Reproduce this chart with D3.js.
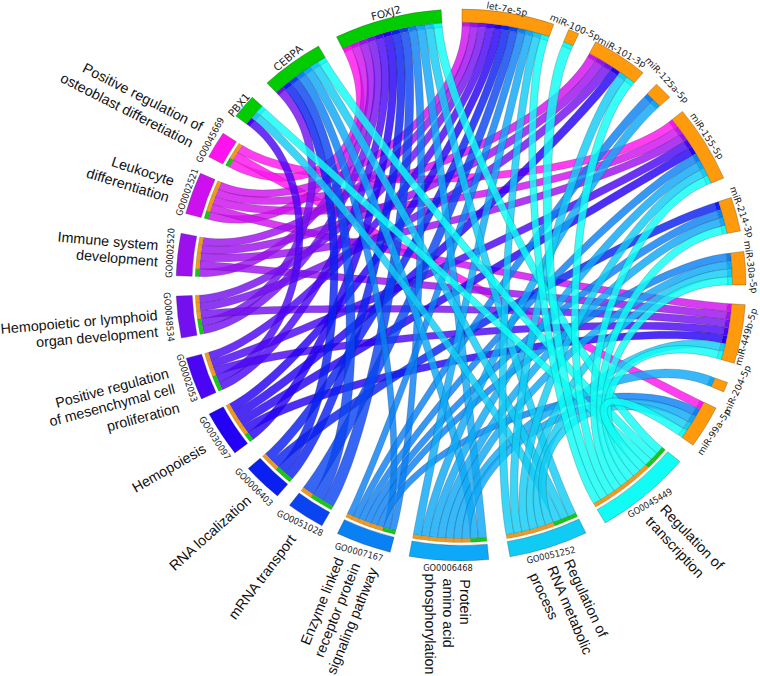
<!DOCTYPE html>
<html>
<head>
<meta charset="utf-8">
<script src="https://cdn.jsdelivr.net/npm/d3@7"></script>
<style>
  html, body { margin: 0; padding: 0; background: #fff; }
  svg { display: block; }
  .term { font-family: "Liberation Sans", Arial, sans-serif; font-size: 14.3px; fill: #111; }
  .goId { font-family: "DejaVu Sans Condensed", "DejaVu Sans", sans-serif; font-size: 9.2px; fill: #222; }
  .gene { font-family: "DejaVu Sans", sans-serif; font-size: 9.2px; fill: #222; }
  .tf { font-family: "DejaVu Sans", sans-serif; font-size: 10.5px; fill: #222; }
</style>
</head>
<body>
<div id="chart-area"></div>
<script>
// GO terms, index 0 is magenta end of the colour run
const goIds = ["GO0045669", "GO0002521", "GO0002520", "GO0048534", "GO0002053", "GO0030097",
    "GO0006403", "GO0051028", "GO0007167", "GO0006468", "GO0051252", "GO0045449"]
const goStart = [297.7, 285, 271.9, 258.9, 245.6, 232.5, 220.1, 209.2, 194.4, 174.4, 154, 129.8]
const goEnd = [303.4, 293.9, 280.8, 267.7, 254.6, 242.1, 228.3, 217, 205.7, 190.5, 170.1, 149.6]
const goColors = ["#ff12ee", "#cf10ee", "#9c10ee", "#7410f0", "#4a05f5", "#2400f5",
    "#0a20f0", "#0a44f0", "#0a80f5", "#0ea8f8", "#10ccf5", "#10fcf5"]

// genes, clockwise from PBX1
const geneNames = ["PBX1", "CEBPA", "FOXJ2", "let-7e-5p", "miR-100-5p", "miR-101-3p", "miR-125a-5p",
    "miR-155-5p", "miR-214-3p", "miR-30a-5p", "miR-449b-5p", "miR-204-5p", "miR-99a-5p"]
const geneStart = [307.8, 317.1, 334.1, 360.2, 382.2, 388.2, 403.3, 411, 431.5, 443, 454.1, 470.7, 476.5]
const geneEnd = [312.9, 330, 356, 379, 384.4, 399.7, 407.1, 427.2, 438.7, 450, 466.5, 472.8, 485.5]
const geneIsTf = [true, true, true, false, false, false, false, false, false, false, false, false, false]

// which GO terms (by index) each gene links to
const geneLinks = [
    [4, 10, 11],
    [3, 6, 7, 8, 9, 10, 11],
    [0, 1, 2, 3, 4, 5, 6, 7, 8, 9, 10, 11],
    [1, 2, 3, 4, 5, 6, 7, 8, 9, 10, 11],
    [11],
    [1, 2, 3, 5, 10, 11],
    [8, 9],
    [0, 1, 2, 4, 5, 8, 9, 10, 11],
    [6, 8, 9, 11],
    [8, 9, 10, 11],
    [1, 2, 3, 4, 5, 10, 11],
    [9],
    [0, 8, 9, 10, 11]
]

// long term labels: text, centre x, centre y, rotation
const termLabels = [
    ["Positive regulation of", 143, 97, 27],
    ["osteoblast differetiation", 127, 110, 27],
    ["Leukocyte", 143, 171, 18],
    ["differentiation", 128, 185, 17],
    ["Immune system", 108, 241, 5],
    ["development", 117, 258, 5],
    ["Hemopoietic or lymphoid", 79, 322, -5],
    ["organ development", 97, 337, -5],
    ["Positive regulation", 112, 388, -15],
    ["of mesenchymal cell", 112, 405, -15],
    ["proliferation", 143, 417, -15],
    ["Hemopoiesis", 169, 468, -30],
    ["RNA localization", 210, 533, -42],
    ["mRNA transport", 262, 577, -53],
    ["Enzyme linked", 322, 601, -68],
    ["receptor protein", 337, 610, -68],
    ["signaling pathway", 352, 621, -68],
    ["Protein", 465, 602, 90],
    ["amino acid", 448, 613, 90],
    ["phosphorylation", 430, 624, 90],
    ["Regulation of", 586, 598, 65],
    ["RNA metabolic", 570, 610, 67],
    ["process", 544, 596, 65],
    ["Regulation of", 692, 537, 46],
    ["transcription", 675, 547, 47]
]
// small id labels: centre x, centre y, rotation, same order as goIds / geneNames
const goIdPos = [[210, 140, -62], [187, 192, -70], [170, 253, -87], [169, 317, 85], [187, 378, 72], [215, 438, 57],
    [254, 487, 45], [300, 523, 25], [359, 552, 15], [448, 568, 0], [551, 555, -13], [650, 503, -30]]
const genePos = [[239, 105, -50], [288, 58, -40], [386, 13, -15], [507, 9, 11], [575, 27, 23], [622, 52, 29],
    [667, 80, 47], [707, 136, 57], [742, 212, 70], [751, 267, 82], [746, 337, -74], [737, 390, -65], [714, 432, -57]]

const WIDTH = 760
const HEIGHT = 676
const CX = 461
const CY = 285
const R = 285
const Y_SQUASH = 0.968 // the circle is a bit flatter than wide in the picture

// radii
const OUTER = R
const GO_BAND = 269
const GO_TRACK_OUT = 266
const GO_TRACK_IN = 262
const GENE_BAND = 271.5
const GENE_TRACK_IN = 267

const PULL = 0.63 // how far along the radius the curve handles reach
const WAIST = 0.15 // ribbons get a little thinner midway
const STEPS = 48

const ORANGE = "#ff9a0c"
const GREEN = "#00cc00"
const TRACK_ORANGE = "#f0991f"
const TRACK_GREEN = "#14c814"

const rad = d => d * Math.PI / 180

const svg = d3.select("#chart-area").append("svg")
    .attr("width", WIDTH)
    .attr("height", HEIGHT)

const g = svg.append("g")
    .attr("transform", `translate(${CX}, ${CY}) scale(1, ${Y_SQUASH})`)

// work out the slice of every link on both of its ends
const links = []
geneLinks.forEach((list, gi) => {
    const geneScale = d3.scaleLinear().domain([0, list.length]).range([geneStart[gi], geneEnd[gi]])
    list.forEach((go, i) => {
        links.push({ gene: gi, go: go, g0: geneScale(i), g1: geneScale(i + 1) })
    })
})
goIds.forEach((id, go) => {
    // clockwise on a GO sector: the green genes first, then the miRNAs, both last gene first
    const own = d3.sort(links.filter(l => l.go === go),
        (a, b) => d3.descending(geneIsTf[a.gene], geneIsTf[b.gene]) || d3.descending(a.gene, b.gene))
    const goScale = d3.scaleLinear().domain([0, own.length]).range([goStart[go], goEnd[go]])
    own.forEach((l, i) => {
        l.t0 = goScale(i)
        l.t1 = goScale(i + 1)
    })
})

// point on a circle, angle clockwise from 12 o'clock
const polar = (r, a) => [r * Math.sin(rad(a)), -r * Math.cos(rad(a))]

const ribbonLine = d3.line().curve(d3.curveLinear)

// a band along a cubic that leaves both ends along the radius
function ribbonPath(l) {
    const a = (l.g0 + l.g1) / 2
    const b = (l.t0 + l.t1) / 2
    const p0 = polar(GENE_TRACK_IN, a)
    const p1 = polar(GENE_TRACK_IN * PULL, a)
    const p2 = polar(GO_TRACK_IN * PULL, b)
    const p3 = polar(GO_TRACK_IN, b)
    const w0 = rad(l.g1 - l.g0) * GENE_TRACK_IN
    const w1 = rad(l.t1 - l.t0) * GO_TRACK_IN
    const left = []
    const right = []
    d3.range(STEPS + 1).forEach(i => {
        const t = i / STEPS
        const u = 1 - t
        const x = u * u * u * p0[0] + 3 * u * u * t * p1[0] + 3 * u * t * t * p2[0] + t * t * t * p3[0]
        const y = u * u * u * p0[1] + 3 * u * u * t * p1[1] + 3 * u * t * t * p2[1] + t * t * t * p3[1]
        const dx = 3 * u * u * (p1[0] - p0[0]) + 6 * u * t * (p2[0] - p1[0]) + 3 * t * t * (p3[0] - p2[0])
        const dy = 3 * u * u * (p1[1] - p0[1]) + 6 * u * t * (p2[1] - p1[1]) + 3 * t * t * (p3[1] - p2[1])
        const len = Math.hypot(dx, dy) || 1
        const half = (w0 + (w1 - w0) * t) * (1 - WAIST * Math.sin(Math.PI * t)) / 2
        left.push([x - dy / len * half, y + dx / len * half])
        right.push([x + dy / len * half, y - dx / len * half])
    })
    return ribbonLine(left.concat(right.reverse())) + "Z"
}

// ribbons, drawn magenta first so the cyan ones lie on top
g.append("g").selectAll("path")
    .data(d3.sort(links, d => d.go))
    .join("path")
    .attr("d", ribbonPath)
    .attr("fill", d => goColors[d.go])
    .attr("fill-opacity", 0.82)
    .attr("stroke", "#1a1a1a")
    .attr("stroke-opacity", 0.4)
    .attr("stroke-width", 0.5)

const arc = d3.arc()

function slice(inner, outer, a0, a1) {
    return arc({ innerRadius: inner, outerRadius: outer, startAngle: rad(a0), endAngle: rad(a1) })
}

// thin tracks
g.append("g").selectAll("path")
    .data(links)
    .join("path")
    .attr("d", d => slice(GENE_TRACK_IN, GENE_BAND, d.g0, d.g1))
    .attr("fill", d => goColors[d.go])
    .attr("stroke", "#222")
    .attr("stroke-opacity", 0.4)
    .attr("stroke-width", 0.3)

g.append("g").selectAll("path")
    .data(links)
    .join("path")
    .attr("d", d => slice(GO_TRACK_IN, GO_TRACK_OUT, d.t0, d.t1))
    .attr("fill", d => geneIsTf[d.gene] ? TRACK_GREEN : TRACK_ORANGE)
    .attr("stroke", "#222")
    .attr("stroke-opacity", 0.4)
    .attr("stroke-width", 0.3)

// outer bands
g.append("g").selectAll("path")
    .data(goIds)
    .join("path")
    .attr("d", (d, i) => slice(GO_BAND, OUTER, goStart[i], goEnd[i]))
    .attr("fill", (d, i) => goColors[i])
    .attr("stroke", "#333")
    .attr("stroke-width", 0.3)

g.append("g").selectAll("path")
    .data(geneNames)
    .join("path")
    .attr("d", (d, i) => slice(GENE_BAND, OUTER, geneStart[i], geneEnd[i]))
    .attr("fill", (d, i) => geneIsTf[i] ? GREEN : ORANGE)
    .attr("stroke", "#333")
    .attr("stroke-width", 0.3)

// labels
function addLabels(cls, rows, getText, getPos) {
    svg.append("g").selectAll("text")
        .data(rows)
        .join("text")
        .attr("class", cls)
        .attr("text-anchor", "middle")
        .attr("dy", "0.35em")
        .attr("transform", (d, i) => {
            const p = getPos(d, i)
            return `translate(${p[0]}, ${p[1]}) rotate(${p[2]})`
        })
        .text(getText)
}

addLabels("term", termLabels, d => d[0], d => [d[1], d[2], d[3]])
addLabels("goId", goIds, d => d, (d, i) => goIdPos[i])
addLabels("tf", geneNames.slice(0, 3), d => d, (d, i) => genePos[i])
addLabels("gene", geneNames.slice(3), d => d, (d, i) => genePos[i + 3])
</script>
</body>
</html>
